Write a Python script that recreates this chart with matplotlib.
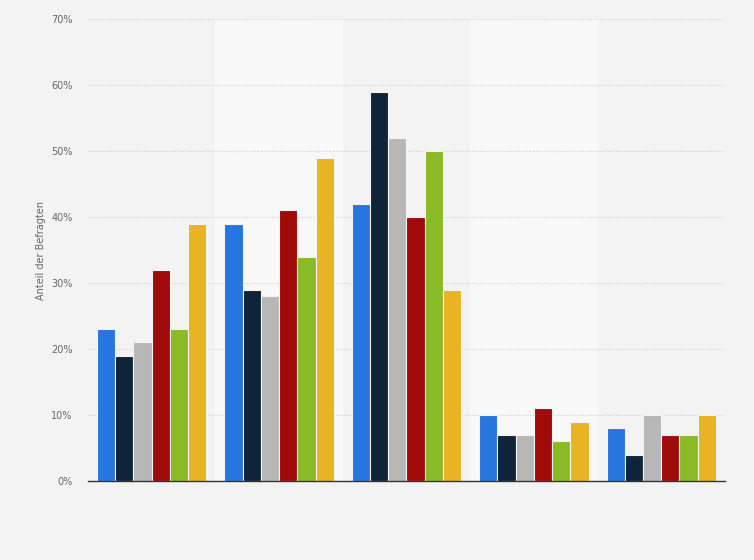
import matplotlib
matplotlib.use("Agg")
import matplotlib.pyplot as plt
import numpy as np

groups = ["1", "2", "3", "4", "5"]
series_colors = ["#2876dd", "#0f2439", "#b7b7b7", "#a10a0a", "#8aba26", "#e9b323"]
values = [
    [23, 39, 42, 10, 8],
    [19, 29, 59, 7, 4],
    [21, 28, 52, 7, 10],
    [32, 41, 40, 11, 7],
    [23, 34, 50, 6, 7],
    [39, 49, 29, 9, 10],
]
yticks = [0, 10, 20, 30, 40, 50, 60, 70]
ytick_labels = ["0%", "10%", "20%", "30%", "40%", "50%", "60%", "70%"]

bg = "#f3f3f3"
fig = plt.figure(figsize=(7.54, 5.6), dpi=100, facecolor=bg)
ax = fig.add_axes([0.1167, 0.141, 0.8448, 0.825])
ax.set_facecolor(bg)

x = np.arange(len(groups))
for i in (1, 3):
    ax.axvspan(i - 0.5, i + 0.5, color="#f8f8f8", zorder=0, lw=0)

n = len(values)
w = 0.143
for k, (vals, c) in enumerate(zip(values, series_colors)):
    ax.bar(x + (k - (n - 1) / 2) * w, vals, width=w, color=c,
           edgecolor=bg, linewidth=0.8, zorder=3)

ax.set_xlim(-0.5, len(groups) - 0.5)
ax.set_ylim(0, 70)
ax.set_yticks(yticks)
ax.set_yticklabels(ytick_labels, fontsize=7, color="#666666")
ax.set_xticks([])
ax.tick_params(axis="y", length=0, pad=11)
ax.grid(axis="y", linestyle=(0, (1, 1.5)), color="#cfcfcf", linewidth=0.8, zorder=1)
for s in ("top", "right", "left"):
    ax.spines[s].set_visible(False)
ax.spines["bottom"].set_color("#333333")
ax.spines["bottom"].set_linewidth(1.0)
ax.spines["bottom"].set_zorder(4)
ax.set_ylabel("Anteil der Befragten", fontsize=7, color="#666666", labelpad=4)

fig.savefig("out.png", dpi=100, facecolor=fig.get_facecolor())
